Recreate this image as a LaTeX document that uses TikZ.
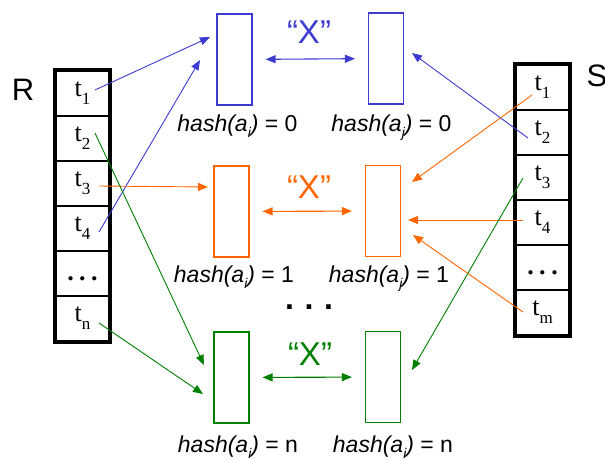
\documentclass[tikz,border=0pt]{standalone}
\usepackage{fontspec}
\setmainfont{Liberation Sans}
\newfontfamily\tms{Liberation Serif}
\usetikzlibrary{arrows.meta}
\definecolor{cblue}{RGB}{60,60,210}
\definecolor{corange}{RGB}{255,102,0}
\definecolor{cgreen}{RGB}{0,128,0}
\newcommand{\tup}[2]{{\tms\fontsize{26}{26}\selectfont #1\raisebox{-0.3em}{\fontsize{17}{17}\selectfont #2}}}
\newcommand{\hlab}[2]{{\fontsize{23}{23}\selectfont\textit{hash(a\raisebox{-0.28em}{\fontsize{14}{14}\selectfont #1})} = #2}}
\newcommand{\celldots}{{\tms\bfseries\fontsize{26}{26}\selectfont .\hspace{5.5pt}.\hspace{5.5pt}.}}
\tikzset{
  cell/.style={draw, line width=2pt, minimum width=53pt, minimum height=45pt, inner sep=0pt},
  outer/.style={line width=3.5pt},
  bucket/.style={draw, line width=1.1pt, minimum width=35pt, minimum height=91pt, inner sep=0pt},
  conn/.style={line width=0.9pt, -{Triangle[length=10pt,width=8pt]}},
  dconn/.style={line width=1.1pt, {Triangle[length=10pt,width=8pt]}-{Triangle[length=10pt,width=8pt]}, shorten <=13pt, shorten >=13pt},
  xlab/.style={anchor=base, font=\fontsize{33}{33}\selectfont},
  hl/.style={anchor=base, inner sep=0pt},
  big/.style={font=\fontsize{31}{31}\selectfont}
}
\begin{document}
\begin{tikzpicture}[x=1pt,y=-1pt]
\useasboundingbox (0,0) rectangle (605,459);
% R table
\node[cell] (r1) at (82.5,93.5) {};
\node[cell] (r2) at (82.5,138.5) {};
\node[cell] (r3) at (82.5,183.5) {};
\node[cell] (r4) at (82.5,228.5) {};
\node[cell] (r5) at (82.5,273.5) {};
\node[cell] (r6) at (82.5,318.5) {};
\draw[outer] (r1.north west) rectangle (r6.south east);
\node (r1t) at (r1) {\tup{t}{1}};
\node (r2t) at (r2) {\tup{t}{2}};
\node (r3t) at (r3) {\tup{t}{3}};
\node (r4t) at (r4) {\tup{t}{4}};
\node[anchor=base] (r5t) at (82.5,280) {\celldots};
\node (r6t) at (r6) {\tup{t}{n}};
\node[big] (R) at (23,90) {R};
% S table
\node[cell] (s1) at (542.5,87.5) {};
\node[cell] (s2) at (542.5,132.5) {};
\node[cell] (s3) at (542.5,177.5) {};
\node[cell] (s4) at (542.5,222.5) {};
\node[cell] (s5) at (542.5,267.5) {};
\node[cell] (s6) at (542.5,312.5) {};
\draw[outer] (s1.north west) rectangle (s6.south east);
\node (s1t) at (s1) {\tup{t}{1}};
\node (s2t) at (s2) {\tup{t}{2}};
\node (s3t) at (s3) {\tup{t}{3}};
\node (s4t) at (s4) {\tup{t}{4}};
\node[anchor=base] (s5t) at (542.5,274) {\celldots};
\node (s6t) at (s6) {\tup{t}{m}};
\node[big] (S) at (597,76) {S};
% buckets
\node[bucket, draw=cblue] (bL) at (234.5,59.5) {};
\node[bucket, draw=cblue] (bR) at (386,58.5) {};
\node[bucket, draw=corange] (oL) at (231.5,211.5) {};
\node[bucket, draw=corange] (oR) at (383,211) {};
\node[bucket, draw=cgreen] (gL) at (231.5,377.5) {};
\node[bucket, draw=cgreen] (gR) at (383,377) {};
% X labels and double arrows
\node[xlab, text=cblue] (xb) at (309,43) {“X”};
\node[xlab, text=corange] (xo) at (309,198) {“X”};
\node[xlab, text=cgreen] (xg) at (310,365) {“X”};
\draw[dconn, cblue] (bL) -- (bR);
\draw[dconn, corange] (oL) -- (oR);
\draw[dconn, cgreen] (gL) -- (gR);
% hash labels
\node[hl] (hb1) at (237.5,131) {\hlab{i}{0}};
\node[hl] (hb2) at (391.5,131) {\hlab{j}{0}};
\node[hl] (ho1) at (234,282) {\hlab{i}{1}};
\node[hl] (ho2) at (389,282) {\hlab{j}{1}};
\node[hl] (hg1) at (238,452) {\hlab{i}{n}};
\node[hl] (hg2) at (393,452) {\hlab{i}{n}};
% middle dots
\node[anchor=base] (mdots) at (309,309) {\fontsize{32}{32}\selectfont\bfseries .\,\,.\,\,.};
% connector starts
\coordinate (a1) at (95,90);
\coordinate (a2) at (95,133);
\coordinate (a3) at (99,186);
\coordinate (a4) at (99,232);
\coordinate (a6) at (99,323);
\coordinate (b1) at (532,95);
\coordinate (b2) at (528,138);
\coordinate (b3) at (523,178);
\coordinate (b4) at (523,220);
\coordinate (b6) at (523,312);
% connector ends
\coordinate (e1) at (210,37);
\coordinate (e4) at (200,60);
\coordinate (eb2) at (412,53);
\coordinate (e3) at (208,187);
\coordinate (eb1) at (412,182);
\coordinate (eb4) at (408,220);
\coordinate (eb6) at (413,235);
\coordinate (e2) at (204,365);
\coordinate (e6) at (203,394);
\coordinate (eb3) at (412,370);
\draw[conn, cblue] (a1) -- (e1);
\draw[conn, cblue] (a4) -- (e4);
\draw[conn, cblue] (b2) -- (eb2);
\draw[conn, corange] (a3) -- (e3);
\draw[conn, corange] (b1) -- (eb1);
\draw[conn, corange] (b4) -- (eb4);
\draw[conn, corange] (b6) -- (eb6);
\draw[conn, cgreen] (a2) -- (e2);
\draw[conn, cgreen] (a6) -- (e6);
\draw[conn, cgreen] (b3) -- (eb3);
\end{tikzpicture}
\end{document}
